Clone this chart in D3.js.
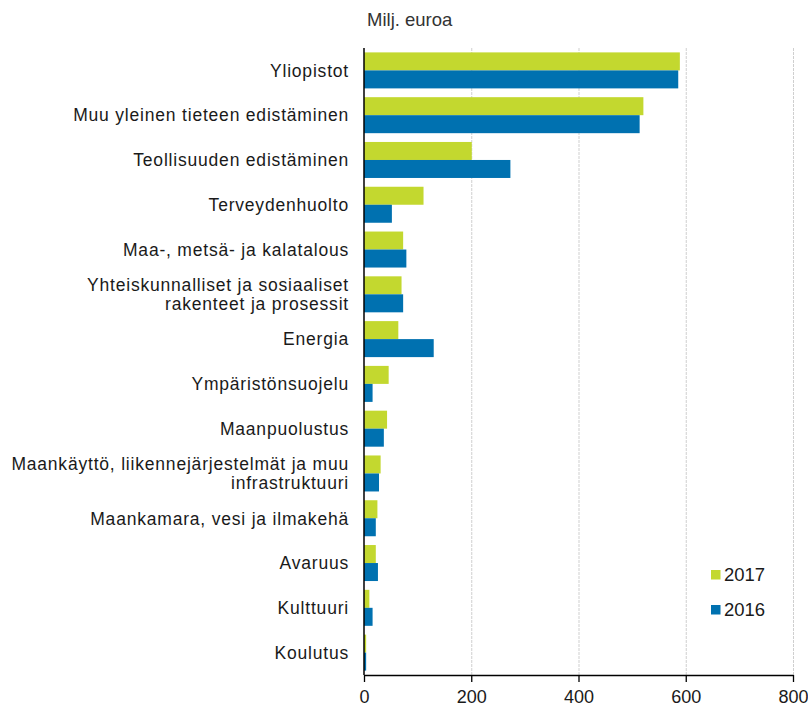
<!DOCTYPE html>
<html>
<head>
<meta charset="utf-8">
<script src="https://cdn.jsdelivr.net/npm/d3@7"></script>
<style>
  body { margin: 0; background: #fff; }
  text { font-family: "Liberation Sans", Arial, sans-serif; }
</style>
</head>
<body>
<div id="chart"></div>
<script>
// categories (top to bottom), "\n" marks a line break in the label
var categories = [
  "Yliopistot",
  "Muu yleinen tieteen edistäminen",
  "Teollisuuden edistäminen",
  "Terveydenhuolto",
  "Maa-, metsä- ja kalatalous",
  "Yhteiskunnalliset ja sosiaaliset\nrakenteet ja prosessit",
  "Energia",
  "Ympäristönsuojelu",
  "Maanpuolustus",
  "Maankäyttö, liikennejärjestelmät ja muu\ninfrastruktuuri",
  "Maankamara, vesi ja ilmakehä",
  "Avaruus",
  "Kulttuuri",
  "Koulutus"
];
var years = ["2017", "2016"];
var values2017 = [589, 521, 201, 111, 73, 70, 64, 46, 43, 31, 25, 22, 10, 4];
var values2016 = [586, 514, 273, 52, 79, 73, 130, 16, 37, 28, 22, 26, 16, 4];
var xTicks = [0, 200, 400, 600, 800];
var unitLabel = "Milj. euroa";

var colors = { "2017": "#c3d82f", "2016": "#0071b0" };

var width = 808, height = 705;
var margin = { top: 48, right: 15, bottom: 30, left: 364 };

var svg = d3.select("#chart").append("svg")
    .attr("width", width)
    .attr("height", height);

var x = d3.scaleLinear()
    .domain([0, 800])
    .range([margin.left, 793]);

var y = d3.scaleBand()
    .domain(categories)
    .range([margin.top, 675]);

var yInner = d3.scaleBand()
    .domain(years)
    .range([0, y.bandwidth()])
    .paddingOuter(0.244);

// grid lines
svg.append("g").selectAll("line")
  .data(xTicks.slice(1))
  .join("line")
    .attr("x1", function(d) { return x(d) + 0.5; })
    .attr("x2", function(d) { return x(d) + 0.5; })
    .attr("y1", margin.top)
    .attr("y2", 675)
    .attr("stroke", "#cfcfcf")
    .attr("stroke-dasharray", "3,1");

// bars
var rows = categories.map(function(c, i) {
  return { cat: c, vals: [ { year: "2017", v: values2017[i] }, { year: "2016", v: values2016[i] } ] };
});

var group = svg.append("g").selectAll("g")
  .data(rows)
  .join("g")
    .attr("transform", function(d) { return "translate(0," + y(d.cat) + ")"; });

group.selectAll("rect")
  .data(function(d) { return d.vals; })
  .join("rect")
    .attr("x", x(0))
    .attr("y", function(d) { return yInner(d.year); })
    .attr("width", function(d) { return x(d.v) - x(0); })
    .attr("height", yInner.bandwidth())
    .attr("fill", function(d) { return colors[d.year]; });

// category labels
var labels = svg.append("g").selectAll("text")
  .data(categories)
  .join("text")
    .attr("text-anchor", "end")
    .attr("font-size", "17.5px")
    .attr("letter-spacing", "0.8px")
    .attr("fill", "#1a1a1a")
    .attr("transform", function(d) { return "translate(349," + (y(d) + y.bandwidth() / 2) + ")"; });

labels.each(function(d) {
  var lines = d.split("\n");
  var t = d3.select(this);
  var start = lines.length == 1 ? 6.3 : -3;
  lines.forEach(function(l, i) {
    t.append("tspan").attr("x", 0).attr("y", start + i * 18.5).text(l);
  });
});

// x axis
var xAxis = svg.append("g")
    .attr("transform", "translate(0,675)")
    .call(d3.axisBottom(x).tickValues(xTicks).tickSize(7).tickPadding(8).tickSizeOuter(0));
xAxis.select(".domain").attr("stroke", "#000").attr("stroke-width", 1.5);
xAxis.selectAll(".tick line").attr("stroke", "#000").attr("stroke-width", 1.3);
xAxis.selectAll("text")
    .attr("font-family", "Liberation Sans, Arial, sans-serif")
    .attr("font-size", "18px")
    .attr("fill", "#1a1a1a");

// y axis line
svg.append("line")
    .attr("x1", x(0)).attr("x2", x(0))
    .attr("y1", margin.top).attr("y2", 675)
    .attr("stroke", "#000")
    .attr("stroke-width", 1.5);

// unit label
svg.append("text")
    .attr("x", 367)
    .attr("y", 26)
    .attr("font-size", "18.5px")
    .attr("fill", "#333")
    .text(unitLabel);

// legend
var legend = svg.append("g").selectAll("g")
  .data(years)
  .join("g")
    .attr("transform", function(d, i) { return "translate(711," + (570 + i * 35) + ")"; });

legend.append("rect")
    .attr("width", 9.5)
    .attr("height", 9.5)
    .attr("fill", function(d) { return colors[d]; });

legend.append("text")
    .attr("x", 13)
    .attr("y", 10.5)
    .attr("font-size", "18.5px")
    .attr("fill", "#1a1a1a")
    .text(function(d) { return d; });
</script>
</body>
</html>
